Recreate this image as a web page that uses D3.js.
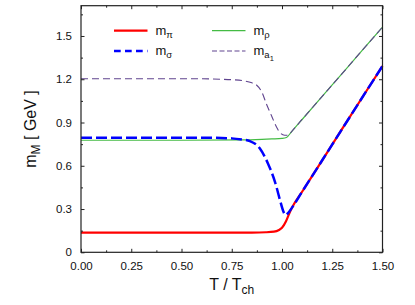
<!DOCTYPE html>
<html>
<head>
<meta charset="utf-8">
<script src="https://cdn.jsdelivr.net/npm/d3@7"></script>
<style>
  body { margin: 0; background: #fff; }
  text { font-family: "Liberation Sans", Arial, sans-serif; fill: #111; }
</style>
</head>
<body>
<svg id="chart"></svg>
<script>
// T / T_ch values and masses (GeV)
const piT   = [0, 0.5, 0.85, 0.92, 0.96, 0.985, 1.0, 1.02, 1.035, 1.05, 1.1, 1.2, 1.3, 1.4, 1.5];
const piM   = [0.136, 0.136, 0.137, 0.139, 0.143, 0.155, 0.17, 0.215, 0.265, 0.31, 0.42, 0.638, 0.857, 1.075, 1.292];

const sigT  = [0, 0.6, 0.75, 0.8, 0.84, 0.89, 0.93, 0.965, 0.99, 1.005, 1.018, 1.03, 1.05, 1.1, 1.2, 1.3, 1.4, 1.5];
const sigM  = [0.795, 0.795, 0.79, 0.782, 0.771, 0.72, 0.616, 0.489, 0.362, 0.29, 0.258, 0.272, 0.31, 0.42, 0.638, 0.857, 1.075, 1.292];

const rhoT  = [0, 0.5, 0.8, 0.9, 0.95, 1.0, 1.022, 1.05, 1.1, 1.2, 1.3, 1.4, 1.5];
const rhoM  = [0.777, 0.777, 0.779, 0.783, 0.786, 0.79, 0.796, 0.841, 0.921, 1.081, 1.241, 1.402, 1.562];

const a1T   = [0, 0.6, 0.7, 0.75, 0.806, 0.85, 0.873, 0.9, 0.922, 0.95, 0.972, 0.99, 1.013, 1.03, 1.05, 1.1, 1.2, 1.3, 1.4, 1.5];
const a1M   = [1.203, 1.203, 1.2, 1.197, 1.19, 1.175, 1.16, 1.11, 1.03, 0.94, 0.87, 0.83, 0.812, 0.812, 0.841, 0.921, 1.081, 1.241, 1.402, 1.562];

const xTicks = [0, 0.25, 0.5, 0.75, 1.0, 1.25, 1.5];
const yTicks = [0, 0.3, 0.6, 0.9, 1.2, 1.5];

const W = 415, H = 305;
const m = { left: 81, right: 32.5, top: 5.7, bottom: 52.7 };

const svg = d3.select('#chart').attr('width', W).attr('height', H);

const x = d3.scaleLinear().domain([0, 1.5]).range([m.left, W - m.right]);
const y = d3.scaleLinear().domain([0, 1.71]).range([H - m.bottom, m.top]);

const line = d3.line()
  .x(d => x(d[0]))
  .y(d => y(d[1]))
  .curve(d3.curveMonotoneX);

const purple = '#60448f';

// drawing order: rho under a1, pi under sigma
const series = [
  { T: rhoT, M: rhoM, color: '#44bb44', w: 1.2, dash: null },
  { T: a1T,  M: a1M,  color: purple, w: 1.1, dash: '7,4' },
  { T: piT,  M: piM,  color: '#ff0000', w: 2.2, dash: null },
  { T: sigT, M: sigM, color: '#0000ff', w: 2.5, dash: '11,4' }
];

const plot = svg.append('g');
series.forEach(s => {
  plot.append('path')
    .datum(s.T.map((t, i) => [t, s.M[i]]))
    .attr('d', line)
    .attr('fill', 'none')
    .attr('stroke', s.color)
    .attr('stroke-width', s.w)
    .attr('stroke-dasharray', s.dash);
});

// axes: ticks pointing inward, mirrored on top / right
const minorX = d3.range(0.125, 1.5, 0.25);
const minorY = d3.range(0.15, 1.71, 0.3);

svg.append('g')
  .attr('transform', `translate(0,${H - m.bottom})`)
  .call(d3.axisBottom(x).tickValues(xTicks).tickFormat(d3.format('.2f')).tickSizeInner(-3.5).tickSizeOuter(0).tickPadding(10))
  .call(g => g.selectAll('text').attr('font-size', '11.5px'));
svg.append('g')
  .attr('transform', `translate(0,${H - m.bottom})`)
  .call(d3.axisBottom(x).tickValues(minorX).tickFormat('').tickSizeInner(-2).tickSizeOuter(0));
svg.append('g')
  .attr('transform', `translate(0,${m.top})`)
  .call(d3.axisTop(x).tickValues(xTicks).tickFormat('').tickSizeInner(-3.5).tickSizeOuter(0));
svg.append('g')
  .attr('transform', `translate(0,${m.top})`)
  .call(d3.axisTop(x).tickValues(minorX).tickFormat('').tickSizeInner(-2).tickSizeOuter(0));

svg.append('g')
  .attr('transform', `translate(${m.left},0)`)
  .call(d3.axisLeft(y).tickValues(yTicks).tickFormat(d => d === 0 ? '0' : d3.format('.1f')(d)).tickSizeInner(-3.5).tickSizeOuter(0).tickPadding(9))
  .call(g => g.selectAll('text').attr('font-size', '11.5px'));
svg.append('g')
  .attr('transform', `translate(${m.left},0)`)
  .call(d3.axisLeft(y).tickValues(minorY).tickFormat('').tickSizeInner(-2).tickSizeOuter(0));
svg.append('g')
  .attr('transform', `translate(${W - m.right},0)`)
  .call(d3.axisRight(y).tickValues(yTicks).tickFormat('').tickSizeInner(-3.5).tickSizeOuter(0));
svg.append('g')
  .attr('transform', `translate(${W - m.right},0)`)
  .call(d3.axisRight(y).tickValues(minorY).tickFormat('').tickSizeInner(-2).tickSizeOuter(0));

svg.selectAll('.domain').remove();
svg.selectAll('.tick line').attr('stroke', '#222');

svg.append('rect')
  .attr('x', m.left).attr('y', m.top)
  .attr('width', W - m.left - m.right).attr('height', H - m.top - m.bottom)
  .attr('fill', 'none').attr('stroke', '#222').attr('stroke-width', 1.2);

// axis titles
const xt = svg.append('text')
  .attr('x', (m.left + W - m.right) / 2).attr('y', 290)
  .attr('text-anchor', 'middle').attr('font-size', '16px');
xt.append('tspan').text('T / T');
xt.append('tspan').attr('dy', 4).attr('font-size', '12px').text('ch');

const yt = svg.append('text')
  .attr('transform', `translate(36,${(m.top + H - m.bottom) / 2}) rotate(-90)`)
  .attr('text-anchor', 'middle').attr('font-size', '16px');
yt.append('tspan').text('m');
yt.append('tspan').attr('dy', 4).attr('font-size', '12px').text('M');
yt.append('tspan').attr('dy', -4).text(' [ GeV ]');

// legend
const legend = [
  { x0: 114, y0: 30.7, color: '#ff0000', w: 2.2, dash: null, sub: 'π' },
  { x0: 114, y0: 51, color: '#0000ff', w: 2.5, dash: '6.7,4.3', sub: 'σ' },
  { x0: 212, y0: 30.7, color: '#44bb44', w: 1.2, dash: null, sub: 'ρ' },
  { x0: 212, y0: 51, color: purple, w: 1.1, dash: '5,2.5', sub: 'a' }
];
legend.forEach(l => {
  svg.append('line')
    .attr('x1', l.x0).attr('x2', l.x0 + 33.5)
    .attr('y1', l.y0).attr('y2', l.y0)
    .attr('stroke', l.color).attr('stroke-width', l.w)
    .attr('stroke-dasharray', l.dash);
  const t = svg.append('text')
    .attr('x', l.x0 + 41.5).attr('y', l.y0 + 4)
    .attr('font-size', '13px');
  t.append('tspan').text('m');
  t.append('tspan').attr('dy', 3).attr('font-size', '9.5px').text(l.sub);
  if (l.sub === 'a') t.append('tspan').attr('dy', 3).attr('font-size', '7.5px').text('1');
});
</script>
</body>
</html>
